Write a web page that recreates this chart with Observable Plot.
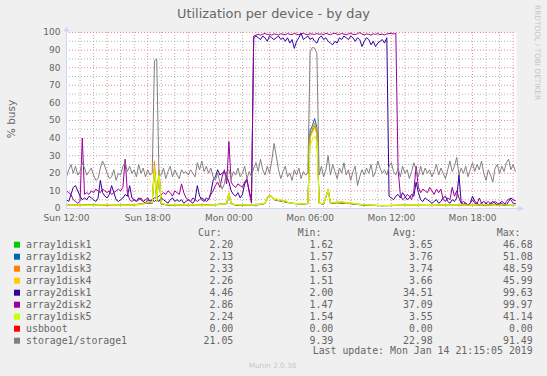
<!DOCTYPE html>
<html><head><meta charset="utf-8">
<script src="https://cdn.jsdelivr.net/npm/d3@7"></script>
<script src="https://cdn.jsdelivr.net/npm/@observablehq/plot@0.6"></script>
<style>
html,body{margin:0;padding:0;background:#f0f0f0;}
#wrap{position:relative;width:547px;height:376px;overflow:hidden;background:#f0f0f0;}
#wrap svg{position:absolute;left:0;top:0;}
</style></head><body><div id="wrap"></div>
<script>
// ---- text ----
const titleText = "Utilization per device - by day";
const yLabelText = "% busy";
const sideText = "RRDTOOL / TOBI OETIKER";
const footerText = "Munin 2.0.38";
const lastUpdateText = "Last update: Mon Jan 14 21:15:05 2019";
const legendHeaders = ["Cur:", "Min:", "Avg:", "Max:"];

// ---- series meta ----
const seriesNames = ["array1disk1","array1disk2","array1disk3","array1disk4","array2disk1","array2disk2","array1disk5","usbboot","storage1/storage1"];
const seriesColors = ["#00CC00","#0066B3","#FF8000","#FFCC00","#330099","#990099","#CCFF00","#FF0000","#808080"];
const curValues = ["2.20","2.13","2.33","2.26","4.46","2.86","2.24","0.00","21.05"];
const minValues = ["1.62","1.57","1.63","1.51","2.00","1.47","1.54","0.00","9.39"];
const avgValues = ["3.65","3.76","3.74","3.66","34.51","37.09","3.55","0.00","22.98"];
const maxValues = ["46.68","51.08","48.59","45.99","99.63","99.97","41.14","0.00","91.49"];

// ---- time axis ----
const startTime = Date.UTC(2019,0,13,12,0);
const endTime = Date.UTC(2019,0,14,21,15);
const axisEndTime = Date.UTC(2019,0,14,21,33);
const stepMinutes = 10;
const xTickLabels = ["Sun 12:00","Sun 18:00","Mon 00:00","Mon 06:00","Mon 12:00","Mon 18:00"];
const xTickTimes = [Date.UTC(2019,0,13,12),Date.UTC(2019,0,13,18),Date.UTC(2019,0,14,0),Date.UTC(2019,0,14,6),Date.UTC(2019,0,14,12),Date.UTC(2019,0,14,18)];
const yTicks = [0,10,20,30,40,50,60,70,80,90,100];
const yMinorGrid = [5,15,25,35,45,55,65,75,85,95];

// ---- values, 10-minute samples from Sun 12:00 ----
const storage1 = [
18,22,25,20,24,19,21,26,23,19,
21,23,19,16,17,23,27,24,20,17,
18,22,16,20,19,24,26,21,24,20,
22,18,25,20,23,18,22,19,20,84,
85,19,19,23,17,21,24,18,22,19,
17,22,20,21,19,22,20,18,26,22,
27,21,24,20,23,18,16,20,15,11,
14,21,22,17,21,19,23,18,20,24,
17,21,18,23,26,21,28,22,19,24,
20,27,37,30,22,17,21,24,18,20,
16,22,19,23,17,21,19,20,89,91.49,
91.2,88,19,24,18,22,30,19,25,21,
17,23,20,26,19,22,16,21,24,13,
18,22,19,23,20,25,18,21,27,23,
20,22,19,24,26,21,19,23,18,24,
20,22,17,21,26,22,18,24,19,23,
20,22,18,21,25,19,23,20,17,22,
27,21,24,29,19,23,20,24,18,22,
26,21,25,22,27,20,16,22,19,15,
23,25,20,24,21,26,28,22,25,21.05];

const array2disk1 = [
5,4,8,12,13,10,7,5,6,5,
7,6,5,4,6,16,9,7,6,8,
13,9,5,4,5,6,8,7,13,6,
5,4,6,5,4,5,6,4,5,4,
5,4,6,5,4,3,5,6,4,5,
4,5,3,4,5,4,3,5,13,7,
5,4,6,5,9,16,18,22,19,20,
21,18,15,10,8,7,9,6,8,14,
16,10,5,97,98,97,96,98,97,95,
98,97,96,97,98,96,97,95,97,94,
96,91,95,97,99.63,96,97,98,96,97,
95,94,97,98,96,97,95,94,93,95,
94,97,96,98,97,96,98,97,95,97,
96,92,95,97,96,93,95,92,94,95,
96,94,97,7,6,5,7,8,6,9,
7,5,6,8,7,15,9,5,4,6,
5,4,3,4,5,3,4,6,7,4,
3,5,4,6,19,3,4,3,2,3,
7,4,3,2,3,4,3,2,3,4,
3,2,3,4,3,2,4,6,5,4.46];

const array2disk2 = [
10,9,8,5,4,3,4,40,8,9,
8,10,9,11,10,9,11,10,9,10,
8,9,10,11,10,12,28,9,5,4,
5,4,5,6,4,3,5,4,5,6,
6,7,8,9,8,10,9,7,10,9,
8,14,9,6,5,4,6,5,4,5,
6,5,4,5,8,10,13,15,12,18,
22,14,38,15,13,12,14,13,12,15,
17,9,3,98,98.5,99,98.5,99,99.5,98.8,
99,98.5,99.2,99,98.6,99.3,99,98.7,99.4,99,
98.8,99.5,99,98.7,99.2,99.6,99,98.8,99.3,99.1,
98.9,99.4,99,99.2,98.8,99.5,99.1,98.7,99.3,99.6,
99,98.9,99.4,99.1,98.7,99.2,99.5,99,98.8,99.3,
99.97,99.1,98.6,99.2,99,98.5,99.3,98.9,99.4,98.8,
99.1,98.6,99.2,99.4,99.5,99.2,99.6,22,8,5,
6,8,7,5,10,24,12,9,11,10,
9,12,10,8,11,9,11,5,4,6,
5,12,7,10,6,3,2.5,3,2,3,
5,3,2.5,6,3,2,3,4,2.5,3,
4,3,2.5,3,1.5,4,5.5,5,3,2.86];

// sparse readings [sample index, value] for the near-flat series
const array1disk1 = [[0,1.9],[10,2.0],[20,1.8],[30,2.1],[36,3.2],[38,3],[39,23],[40,4],[41,20],[42,2.5],[45,2.0],[55,1.9],[65,2.1],[71,2.8],[72,8.5],[73,2.8],[75,2.0],[85,2.2],[88,2.8],[89,6],[90,7.2],[91,6.8],[92,5],[94,4.4],[96,4],[98,3.4],[100,3],[104,2.5],[107,2.8],[108,42],[109,44],[110,46.68],[111,43],[112,3],[114,2.5],[116,10.5],[117,3],[120,3.2],[124,3.1],[128,2.5],[132,2.0],[140,1.62],[150,1.9],[160,1.8],[170,2.0],[180,1.8],[190,2.0],[199,2.20]];
const array1disk2 = [[0,1.8],[10,1.9],[20,1.7],[30,2.0],[36,3.0],[38,3],[39,22],[40,4.5],[41,21],[42,2.6],[45,1.9],[55,1.8],[65,2.0],[71,2.7],[72,8.8],[73,2.7],[75,1.9],[85,2.1],[88,2.9],[89,6.2],[90,7.4],[91,6.6],[92,5.1],[94,4.5],[96,4.1],[98,3.5],[100,2.9],[104,2.4],[107,2.8],[108,44],[109,47],[110,51.08],[111,46],[112,3],[114,2.4],[116,10.8],[117,3.1],[120,3.1],[124,3.0],[128,2.4],[132,1.9],[140,1.57],[150,1.8],[160,1.7],[170,1.9],[180,1.8],[190,1.9],[199,2.13]];
const array1disk3 = [[0,2.0],[10,1.9],[20,1.8],[30,2.1],[36,3.3],[38,3.2],[39,27],[40,5],[41,22],[42,2.7],[45,2.0],[55,1.9],[65,2.1],[71,2.9],[72,8.7],[73,2.9],[75,2.0],[85,2.2],[88,3.0],[89,6.3],[90,7.3],[91,6.9],[92,5.2],[94,4.6],[96,4.1],[98,3.5],[100,3.0],[104,2.5],[107,2.9],[108,41],[109,45],[110,48.59],[111,44],[112,3.1],[114,2.6],[116,11],[117,3.1],[120,3.3],[124,3.1],[128,2.6],[132,2.1],[140,1.63],[150,1.9],[160,1.8],[170,2.0],[180,1.9],[190,2.0],[199,2.33]];
const array1disk4 = [[0,2.0],[8,1.8],[16,2.2],[24,1.9],[32,2.1],[35,3],[37,4.4],[38,3.5],[39,24],[40,5],[41,21.5],[42,3],[44,2.3],[52,2.0],[60,1.8],[68,2.3],[71,3.2],[72,9],[73,3.2],[74,2.3],[82,2.1],[86,2.6],[88,3.2],[89,6.5],[90,7.6],[91,7],[92,5.2],[93,5.8],[94,4.6],[95,5.2],[96,4.2],[97,4.7],[98,3.6],[100,3.1],[104,2.6],[107,3],[108,40],[109,43],[110,45.99],[111,42],[112,3.2],[114,2.7],[116,11.2],[117,3.2],[119,3.6],[122,4],[125,3.2],[128,2.7],[132,2.2],[140,1.51],[150,2.0],[160,1.8],[170,2.1],[180,1.9],[190,2.1],[199,2.26]];
const array1disk5 = [[0,1.8],[6,2.0],[12,1.7],[18,2.1],[24,1.8],[30,2.0],[34,2.4],[36,3.5],[37,4],[38,3],[39,21],[40,4],[41,20],[42,3],[44,2.2],[50,1.9],[56,2.1],[62,1.8],[68,2.2],[70,2.5],[71,3],[72,8],[73,3],[74,2.2],[80,2],[84,2.3],[86,2.5],[88,3],[89,6],[90,7],[91,6.5],[92,5],[93,5.5],[94,4.5],[95,5],[96,4],[97,4.5],[98,3.5],[100,3],[103,2.5],[106,2.8],[107,3],[108,36],[109,39],[110,41.14],[111,38],[112,3],[114,2.6],[116,10.5],[117,3],[118,3.5],[120,3],[122,3.8],[124,3],[126,3.4],[128,2.6],[130,2.2],[135,2],[140,1.54],[145,2],[150,1.8],[155,2.1],[160,1.7],[165,2],[170,1.8],[175,2.1],[180,1.9],[185,2.2],[190,1.8],[195,2.1],[199,2.24]];
const usbboot = [[0,0],[199,0]];

// ---- build tables ----
const sampleTime = i => new Date(startTime + i * stepMinutes * 60000);
const fromFull = vals => vals.map((v, i) => ({t: sampleTime(i), v}));
const fromSparse = pairs => pairs.map(([i, v]) => ({t: sampleTime(i), v}));
const seriesRows = [
  fromSparse(array1disk1), fromSparse(array1disk2), fromSparse(array1disk3), fromSparse(array1disk4),
  fromFull(array2disk1), fromFull(array2disk2), fromSparse(array1disk5), fromSparse(usbboot), fromFull(storage1)
];

const hours = d3.utcHour.range(new Date(startTime), new Date(endTime + 1));
const majorX = hours.filter(d => d.getUTCHours() % 3 === 0);
const minorX = hours.filter(d => d.getUTCHours() % 3 !== 0);
const tickDates = xTickTimes.map(t => new Date(t));

const axisColor = "#CFD6F8";
const upArrow = {draw(ctx){ ctx.moveTo(-3, 2); ctx.lineTo(3, 2); ctx.lineTo(0, -2.5); ctx.closePath(); }};
const rightArrow = {draw(ctx){ ctx.moveTo(-3, -2.5); ctx.lineTo(-3, 2.5); ctx.lineTo(3.5, 0); ctx.closePath(); }};

const chart = Plot.plot({
  width: 547, height: 225,
  marginLeft: 66, marginRight: 31, marginTop: 32, marginBottom: 17,
  style: {background: "transparent", fontFamily: "DejaVu Sans", fontSize: "9px", color: "#666666", overflow: "visible"},
  x: {type: "utc", domain: [new Date(startTime), new Date(endTime)], ticks: tickDates,
      tickFormat: d => xTickLabels[xTickTimes.indexOf(+d)], tickSize: 0, tickPadding: 6, label: null},
  y: {domain: [0, 100], ticks: yTicks, tickSize: 0, tickPadding: 6, label: null},
  marks: [
    Plot.frame({fill: "white", stroke: "none"}),
    Plot.ruleY(yMinorGrid, {stroke: "#b4b4b4", strokeDasharray: "1,2"}),
    Plot.ruleX(minorX, {stroke: "#b4b4b4", strokeDasharray: "1,2"}),
    Plot.ruleY(yTicks.filter(v => v > 0), {stroke: "#ea8f8f", strokeDasharray: "1,2"}),
    Plot.ruleX(majorX, {stroke: "#ea8f8f", strokeDasharray: "1,2"}),
    ...seriesRows.map((rows, k) => Plot.line(rows, {x: "t", y: "v", stroke: seriesColors[k], strokeWidth: 1})),
    Plot.ruleX([{x: new Date(startTime), y1: 0, y2: 102.5}], {x: "x", y1: "y1", y2: "y2", stroke: axisColor}),
    Plot.ruleY([{y: 0, x1: new Date(startTime), x2: new Date(axisEndTime)}], {y: "y", x1: "x1", x2: "x2", stroke: axisColor}),
    Plot.dot([{x: new Date(startTime), y: 100}], {x: "x", y: "y", dy: -3.3, symbol: upArrow, r: 3, fill: axisColor, stroke: "none"}),
    Plot.dot([{x: new Date(endTime), y: 0}], {x: "x", y: "y", dx: 4.5, symbol: rightArrow, r: 3, fill: axisColor, stroke: "none"})
  ]
});
document.getElementById("wrap").appendChild(chart);

// ---- title, labels and legend ----
const over = d3.select("#wrap").append("svg").attr("width", 547).attr("height", 376);
const txt = (x, y, s, size, opts = {}) => over.append("text")
  .attr("x", x).attr("y", y).text(s)
  .attr("font-family", opts.mono ? "DejaVu Sans Mono" : "DejaVu Sans")
  .attr("font-size", size).attr("fill", opts.fill || "#666666")
  .attr("text-anchor", opts.anchor || "start")
  .attr("transform", opts.rotate ? `rotate(${opts.rotate},${x},${y})` : null);

txt(273.5, 18.3, titleText, 12.9, {anchor: "middle"});
txt(15, 119, yLabelText, 10.5, {anchor: "middle", rotate: -90});
txt(534.5, 5, sideText, 7.4, {fill: "#c4c4c4", rotate: 90});
txt(272.5, 368, footerText, 7.3, {anchor: "middle", fill: "#c8c8c8"});

const headerX = [198, 297.7, 393, 496.7];
const valueX = [233.3, 333.3, 432.7, 532.7];
const baseY = 235.7, rowStep = 12;
legendHeaders.forEach((h, j) => txt(headerX[j], baseY, h, 9.9, {mono: true}));
const cols = [curValues, minValues, avgValues, maxValues];
seriesNames.forEach((name, k) => {
  const y = baseY + rowStep * (k + 1);
  over.append("rect").attr("x", 14).attr("y", y - 6).attr("width", 6).attr("height", 6).attr("fill", seriesColors[k]);
  txt(26, y, name, 9.9, {mono: true});
  cols.forEach((c, j) => txt(valueX[j], y, c[k], 9.9, {mono: true, anchor: "end"}));
});
txt(532.7, 353.7, lastUpdateText, 9.9, {mono: true, anchor: "end"});
</script></body></html>
